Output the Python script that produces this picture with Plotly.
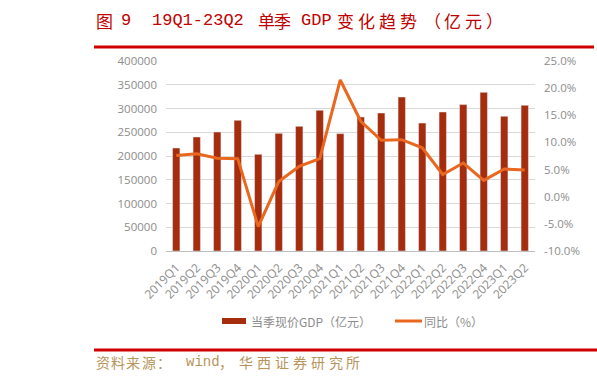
import plotly.graph_objects as go

quarters = ["2019Q1", "2019Q2", "2019Q3", "2019Q4", "2020Q1", "2020Q2", "2020Q3", "2020Q4",
            "2021Q1", "2021Q2", "2021Q3", "2021Q4", "2022Q1", "2022Q2", "2022Q3", "2022Q4",
            "2023Q1", "2023Q2"]
gdp = [216800, 240000, 250500, 275100, 203600, 247700, 262500, 296200,
       247100, 282000, 290500, 324200, 269400, 292600, 308200, 334000,
       283600, 306700]
yoy = [7.6, 7.9, 7.1, 7.0, -5.5, 2.8, 5.6, 7.0,
       21.5, 13.9, 10.4, 10.5, 9.0, 4.1, 6.2, 3.0,
       5.1, 4.9]
left_ticks = list(range(0, 400001, 50000))
right_ticks = [-10, -5, 0, 5, 10, 15, 20, 25]
right_labels = [f"{v:.1f}%" for v in right_ticks]

W, H = 597, 381
L, R, T, B = 166, 62, 61, 130
PW, PH = W - L - R, H - T - B

def px(x):
    return (x - L) / PW

def py(y):
    return (H - B - y) / PH

BAR_C = "#A52D0E"
LINE_C = "#E9671E"
GRAY = "#8c8c8c"
FONT = "Open Sans"
CJK = "Noto Sans CJK SC"
MONO = "Liberation Mono, Noto Sans CJK SC"
TITLE_C = "#C00000"
SRC_C = "#B8945A"

fig = go.Figure()
fig.add_trace(go.Bar(x=quarters, y=gdp, name="当季现价GDP（亿元）",
                     marker_color=BAR_C, yaxis="y", showlegend=False))
fig.add_trace(go.Scatter(x=quarters, y=yoy, name="同比（%）", mode="lines",
                         line=dict(color=LINE_C, width=3), yaxis="y2", showlegend=False))

fig.update_layout(
    width=W, height=H,
    margin=dict(l=L, r=R, t=T, b=B),
    paper_bgcolor="white", plot_bgcolor="white",
    bargap=0.64,
    font=dict(family=FONT, color=GRAY),
    xaxis=dict(type="category", tickangle=-45, tickfont=dict(size=12, color=GRAY),
               showgrid=False, showline=True, linecolor="#bfbfbf", linewidth=1,
               ticks="", ticklabelstandoff=4),
    yaxis=dict(range=[0, 400000], tickvals=left_ticks, tickformat="d",
               tickfont=dict(size=11.5, color=GRAY), showgrid=True,
               gridcolor="#d9d9d9", gridwidth=1, zeroline=False, ticks="",
               ticklabelstandoff=8),
    yaxis2=dict(range=[-10, 25], tickvals=right_ticks, ticktext=right_labels,
                overlaying="y", side="right", showgrid=False, zeroline=False,
                tickfont=dict(size=11.5, color=GRAY), ticks="", ticklabelstandoff=8),
)

shapes = [
    dict(type="rect", xref="paper", yref="paper", x0=px(94), x1=px(594), y0=py(48.5), y1=py(45.5),
         fillcolor="#D00000", line=dict(width=0)),
    dict(type="rect", xref="paper", yref="paper", x0=px(94), x1=px(597), y0=py(351.5), y1=py(348.5),
         fillcolor="#D00000", line=dict(width=0)),
    # legend swatches
    dict(type="rect", xref="paper", yref="paper", x0=px(222), x1=px(246), y0=py(324), y1=py(318),
         fillcolor=BAR_C, line=dict(width=0)),
    dict(type="rect", xref="paper", yref="paper", x0=px(395), x1=px(422), y0=py(322.5), y1=py(319.5),
         fillcolor=LINE_C, line=dict(width=0)),
]
fig.update_layout(shapes=shapes)


def put(text, x, y, family, size, color):
    fig.add_annotation(xref="paper", yref="paper", x=px(x), y=py(y), xanchor="left",
                       yanchor="middle", text=text, showarrow=False,
                       font=dict(family=family, size=size, color=color))


def put_spaced(text, x0, pitch, y, family, size, color):
    for i, ch in enumerate(text):
        put(ch, x0 + i * pitch, y, family, size, color)


# title (spaced like the original justified text)
TY = 20
put("图", 94, TY, CJK, 17, TITLE_C)
put("9", 119, TY, MONO, 17, TITLE_C)
put("19Q1-23Q2", 150, TY, MONO, 17, TITLE_C)
put_spaced("单季", 255.5, 16.5, TY, CJK, 17, TITLE_C)
put("GDP", 298.5, TY, MONO, 17, TITLE_C)
put_spaced("变化趋势", 335, 21, TY, CJK, 17, TITLE_C)
put_spaced("（亿元）", 421.5, 20.7, TY, CJK, 17, TITLE_C)

# legend texts
put("当季现价GDP（亿元）", 249, 321, CJK, 12, GRAY)
put("同比（%）", 422, 321, CJK, 12, GRAY)

# source
SY = 362
put_spaced("资料来源：", 94, 15.2, SY, CJK, 14, SRC_C)
put("wind", 184, SY, MONO, 14, SRC_C)
put("，", 217, SY, CJK, 14, SRC_C)
put_spaced("华西证券研究所", 237, 17.9, SY, CJK, 14, SRC_C)

fig.write_html("out.html", config={"displayModeBar": False},
               post_script="document.body.style.margin='0';")
